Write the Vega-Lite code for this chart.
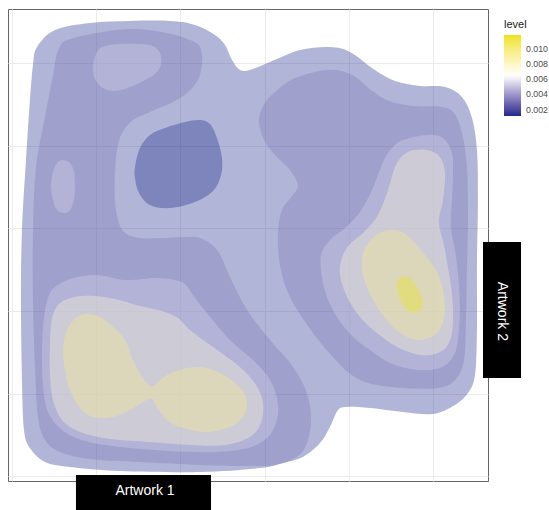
{
"$schema": "https://vega.github.io/schema/vega-lite/v6.json",
"width": 480,
"height": 472,
"padding": {"left": 8, "top": 9, "right": 0, "bottom": 0},
"background": "white",
"config": {
  "view": {"stroke": "#666666", "strokeWidth": 1},
  "axis": {"grid": true, "ticks": false, "labels": false, "domain": false, "title": null, "gridColor": "#ebebeb", "gridWidth": 1}
},
"datasets": {
"contours": [
{"poly":"a1","level":0.00118,"x":0.294,"y":5.194},{"poly":"a1","level":0.00118,"x":0.508,"y":5.400},{"poly":"a1","level":0.00118,"x":0.924,"y":5.485},{"poly":"a1","level":0.00118,"x":1.399,"y":5.509},{"poly":"a1","level":0.00118,"x":1.875,"y":5.509},{"poly":"a1","level":0.00118,"x":2.172,"y":5.461},{"poly":"a1","level":0.00118,"x":2.410,"y":5.340},{"poly":"a1","level":0.00118,"x":2.529,"y":5.219},{"poly":"a1","level":0.00118,"x":2.612,"y":5.037},{"poly":"a1","level":0.00118,"x":2.707,"y":4.916},{"poly":"a1","level":0.00118,"x":2.826,"y":4.916},{"poly":"a1","level":0.00118,"x":3.064,"y":5.013},{"poly":"a1","level":0.00118,"x":3.421,"y":5.158},{"poly":"a1","level":0.00118,"x":3.777,"y":5.194},{"poly":"a1","level":0.00118,"x":4.015,"y":5.134},{"poly":"a1","level":0.00118,"x":4.312,"y":4.916},{"poly":"a1","level":0.00118,"x":4.550,"y":4.783},{"poly":"a1","level":0.00118,"x":4.848,"y":4.723},{"poly":"a1","level":0.00118,"x":5.145,"y":4.711},{"poly":"a1","level":0.00118,"x":5.347,"y":4.590},{"poly":"a1","level":0.00118,"x":5.466,"y":4.335},{"poly":"a1","level":0.00118,"x":5.525,"y":3.948},{"poly":"a1","level":0.00118,"x":5.537,"y":3.343},{"poly":"a1","level":0.00118,"x":5.525,"y":2.617},{"poly":"a1","level":0.00118,"x":5.525,"y":1.770},{"poly":"a1","level":0.00118,"x":5.502,"y":1.226},{"poly":"a1","level":0.00118,"x":5.418,"y":1.008},{"poly":"a1","level":0.00118,"x":5.264,"y":0.863},{"poly":"a1","level":0.00118,"x":5.002,"y":0.754},{"poly":"a1","level":0.00118,"x":4.645,"y":0.778},{"poly":"a1","level":0.00118,"x":4.253,"y":0.826},{"poly":"a1","level":0.00118,"x":3.980,"y":0.839},{"poly":"a1","level":0.00118,"x":3.873,"y":0.802},{"poly":"a1","level":0.00118,"x":3.777,"y":0.597},{"poly":"a1","level":0.00118,"x":3.659,"y":0.403},{"poly":"a1","level":0.00118,"x":3.456,"y":0.234},{"poly":"a1","level":0.00118,"x":3.219,"y":0.161},{"poly":"a1","level":0.00118,"x":2.945,"y":0.100},{"poly":"a1","level":0.00118,"x":2.232,"y":0.052},{"poly":"a1","level":0.00118,"x":1.281,"y":0.064},{"poly":"a1","level":0.00118,"x":0.686,"y":0.113},{"poly":"a1","level":0.00118,"x":0.389,"y":0.173},{"poly":"a1","level":0.00118,"x":0.210,"y":0.342},{"poly":"a1","level":0.00118,"x":0.139,"y":0.560},{"poly":"a1","level":0.00118,"x":0.115,"y":1.165},{"poly":"a1","level":0.00118,"x":0.103,"y":2.133},{"poly":"a1","level":0.00118,"x":0.115,"y":2.980},{"poly":"a1","level":0.00118,"x":0.163,"y":3.827},{"poly":"a1","level":0.00118,"x":0.210,"y":4.553},{"poly":"a1","level":0.00118,"x":0.246,"y":4.977},
{"poly":"a2","level":0.00118,"x":1.459,"y":3.743},{"poly":"a2","level":0.00118,"x":1.518,"y":3.972},{"poly":"a2","level":0.00118,"x":1.637,"y":4.130},{"poly":"a2","level":0.00118,"x":1.816,"y":4.214},{"poly":"a2","level":0.00118,"x":2.053,"y":4.287},{"poly":"a2","level":0.00118,"x":2.232,"y":4.311},{"poly":"a2","level":0.00118,"x":2.351,"y":4.263},{"poly":"a2","level":0.00118,"x":2.434,"y":4.093},{"poly":"a2","level":0.00118,"x":2.493,"y":3.851},{"poly":"a2","level":0.00118,"x":2.482,"y":3.646},{"poly":"a2","level":0.00118,"x":2.386,"y":3.452},{"poly":"a2","level":0.00118,"x":2.172,"y":3.319},{"poly":"a2","level":0.00118,"x":1.875,"y":3.246},{"poly":"a2","level":0.00118,"x":1.637,"y":3.283},{"poly":"a2","level":0.00118,"x":1.506,"y":3.428},{"poly":"a2","level":0.00118,"x":1.459,"y":3.609},
{"poly":"b1","level":0.0033,"x":0.567,"y":5.194},{"poly":"b1","level":0.0033,"x":0.650,"y":5.279},{"poly":"b1","level":0.0033,"x":1.007,"y":5.364},{"poly":"b1","level":0.0033,"x":1.435,"y":5.412},{"poly":"b1","level":0.0033,"x":1.839,"y":5.364},{"poly":"b1","level":0.0033,"x":2.113,"y":5.279},{"poly":"b1","level":0.0033,"x":2.232,"y":5.194},{"poly":"b1","level":0.0033,"x":2.256,"y":5.001},{"poly":"b1","level":0.0033,"x":2.208,"y":4.795},{"poly":"b1","level":0.0033,"x":2.077,"y":4.638},{"poly":"b1","level":0.0033,"x":1.911,"y":4.529},{"poly":"b1","level":0.0033,"x":1.637,"y":4.408},{"poly":"b1","level":0.0033,"x":1.435,"y":4.311},{"poly":"b1","level":0.0033,"x":1.304,"y":4.154},{"poly":"b1","level":0.0033,"x":1.245,"y":3.948},{"poly":"b1","level":0.0033,"x":1.221,"y":3.670},{"poly":"b1","level":0.0033,"x":1.221,"y":3.343},{"poly":"b1","level":0.0033,"x":1.257,"y":3.101},{"poly":"b1","level":0.0033,"x":1.340,"y":2.944},{"poly":"b1","level":0.0033,"x":1.518,"y":2.883},{"poly":"b1","level":0.0033,"x":1.816,"y":2.883},{"poly":"b1","level":0.0033,"x":2.053,"y":2.896},{"poly":"b1","level":0.0033,"x":2.232,"y":2.883},{"poly":"b1","level":0.0033,"x":2.434,"y":2.738},{"poly":"b1","level":0.0033,"x":2.588,"y":2.412},{"poly":"b1","level":0.0033,"x":2.791,"y":2.012},{"poly":"b1","level":0.0033,"x":3.064,"y":1.649},{"poly":"b1","level":0.0033,"x":3.302,"y":1.371},{"poly":"b1","level":0.0033,"x":3.480,"y":1.068},{"poly":"b1","level":0.0033,"x":3.551,"y":0.742},{"poly":"b1","level":0.0033,"x":3.516,"y":0.439},{"poly":"b1","level":0.0033,"x":3.397,"y":0.246},{"poly":"b1","level":0.0033,"x":3.124,"y":0.137},{"poly":"b1","level":0.0033,"x":2.707,"y":0.125},{"poly":"b1","level":0.0033,"x":2.232,"y":0.137},{"poly":"b1","level":0.0033,"x":1.518,"y":0.173},{"poly":"b1","level":0.0033,"x":0.924,"y":0.209},{"poly":"b1","level":0.0033,"x":0.567,"y":0.294},{"poly":"b1","level":0.0033,"x":0.389,"y":0.439},{"poly":"b1","level":0.0033,"x":0.306,"y":0.718},{"poly":"b1","level":0.0033,"x":0.270,"y":1.323},{"poly":"b1","level":0.0033,"x":0.246,"y":2.133},{"poly":"b1","level":0.0033,"x":0.246,"y":2.944},{"poly":"b1","level":0.0033,"x":0.282,"y":3.743},{"poly":"b1","level":0.0033,"x":0.389,"y":4.348},{"poly":"b1","level":0.0033,"x":0.484,"y":4.856},{"poly":"b1","level":0.0033,"x":0.520,"y":5.074},
{"poly":"b2","level":0.0033,"x":2.933,"y":4.311},{"poly":"b2","level":0.0033,"x":3.004,"y":4.517},{"poly":"b2","level":0.0033,"x":3.124,"y":4.650},{"poly":"b2","level":0.0033,"x":3.314,"y":4.795},{"poly":"b2","level":0.0033,"x":3.599,"y":4.892},{"poly":"b2","level":0.0033,"x":3.849,"y":4.916},{"poly":"b2","level":0.0033,"x":4.063,"y":4.844},{"poly":"b2","level":0.0033,"x":4.265,"y":4.674},{"poly":"b2","level":0.0033,"x":4.479,"y":4.541},{"poly":"b2","level":0.0033,"x":4.764,"y":4.481},{"poly":"b2","level":0.0033,"x":5.097,"y":4.469},{"poly":"b2","level":0.0033,"x":5.252,"y":4.396},{"poly":"b2","level":0.0033,"x":5.347,"y":4.154},{"poly":"b2","level":0.0033,"x":5.406,"y":3.743},{"poly":"b2","level":0.0033,"x":5.418,"y":3.138},{"poly":"b2","level":0.0033,"x":5.406,"y":2.533},{"poly":"b2","level":0.0033,"x":5.395,"y":1.928},{"poly":"b2","level":0.0033,"x":5.371,"y":1.407},{"poly":"b2","level":0.0033,"x":5.264,"y":1.165},{"poly":"b2","level":0.0033,"x":5.062,"y":1.068},{"poly":"b2","level":0.0033,"x":4.645,"y":1.068},{"poly":"b2","level":0.0033,"x":4.229,"y":1.129},{"poly":"b2","level":0.0033,"x":3.991,"y":1.262},{"poly":"b2","level":0.0033,"x":3.813,"y":1.444},{"poly":"b2","level":0.0033,"x":3.575,"y":1.734},{"poly":"b2","level":0.0033,"x":3.302,"y":2.170},{"poly":"b2","level":0.0033,"x":3.183,"y":2.557},{"poly":"b2","level":0.0033,"x":3.159,"y":2.944},{"poly":"b2","level":0.0033,"x":3.207,"y":3.222},{"poly":"b2","level":0.0033,"x":3.338,"y":3.404},{"poly":"b2","level":0.0033,"x":3.397,"y":3.525},{"poly":"b2","level":0.0033,"x":3.302,"y":3.706},{"poly":"b2","level":0.0033,"x":3.135,"y":3.876},{"poly":"b2","level":0.0033,"x":2.993,"y":4.069},
{"poly":"c1","level":0.00542,"x":0.960,"y":4.953},{"poly":"c1","level":0.00542,"x":1.007,"y":5.134},{"poly":"c1","level":0.00542,"x":1.102,"y":5.207},{"poly":"c1","level":0.00542,"x":1.281,"y":5.231},{"poly":"c1","level":0.00542,"x":1.518,"y":5.231},{"poly":"c1","level":0.00542,"x":1.673,"y":5.207},{"poly":"c1","level":0.00542,"x":1.756,"y":5.122},{"poly":"c1","level":0.00542,"x":1.768,"y":4.989},{"poly":"c1","level":0.00542,"x":1.709,"y":4.880},{"poly":"c1","level":0.00542,"x":1.578,"y":4.795},{"poly":"c1","level":0.00542,"x":1.399,"y":4.711},{"poly":"c1","level":0.00542,"x":1.221,"y":4.662},{"poly":"c1","level":0.00542,"x":1.078,"y":4.698},{"poly":"c1","level":0.00542,"x":0.983,"y":4.807},
{"poly":"c2","level":0.00542,"x":0.603,"y":3.827},{"poly":"c2","level":0.00542,"x":0.686,"y":3.791},{"poly":"c2","level":0.00542,"x":0.734,"y":3.682},{"poly":"c2","level":0.00542,"x":0.745,"y":3.513},{"poly":"c2","level":0.00542,"x":0.734,"y":3.343},{"poly":"c2","level":0.00542,"x":0.686,"y":3.222},{"poly":"c2","level":0.00542,"x":0.615,"y":3.186},{"poly":"c2","level":0.00542,"x":0.531,"y":3.222},{"poly":"c2","level":0.00542,"x":0.484,"y":3.343},{"poly":"c2","level":0.00542,"x":0.460,"y":3.513},{"poly":"c2","level":0.00542,"x":0.484,"y":3.682},{"poly":"c2","level":0.00542,"x":0.531,"y":3.791},
{"poly":"c3","level":0.00542,"x":0.508,"y":2.291},{"poly":"c3","level":0.00542,"x":0.722,"y":2.399},{"poly":"c3","level":0.00542,"x":1.007,"y":2.436},{"poly":"c3","level":0.00542,"x":1.340,"y":2.375},{"poly":"c3","level":0.00542,"x":1.697,"y":2.399},{"poly":"c3","level":0.00542,"x":1.934,"y":2.375},{"poly":"c3","level":0.00542,"x":2.065,"y":2.315},{"poly":"c3","level":0.00542,"x":2.172,"y":2.157},{"poly":"c3","level":0.00542,"x":2.315,"y":1.976},{"poly":"c3","level":0.00542,"x":2.588,"y":1.649},{"poly":"c3","level":0.00542,"x":2.862,"y":1.407},{"poly":"c3","level":0.00542,"x":3.064,"y":1.165},{"poly":"c3","level":0.00542,"x":3.159,"y":0.887},{"poly":"c3","level":0.00542,"x":3.135,"y":0.645},{"poly":"c3","level":0.00542,"x":3.028,"y":0.463},{"poly":"c3","level":0.00542,"x":2.802,"y":0.342},{"poly":"c3","level":0.00542,"x":2.410,"y":0.294},{"poly":"c3","level":0.00542,"x":1.875,"y":0.306},{"poly":"c3","level":0.00542,"x":1.281,"y":0.355},{"poly":"c3","level":0.00542,"x":0.864,"y":0.427},{"poly":"c3","level":0.00542,"x":0.591,"y":0.560},{"poly":"c3","level":0.00542,"x":0.424,"y":0.778},{"poly":"c3","level":0.00542,"x":0.365,"y":1.105},{"poly":"c3","level":0.00542,"x":0.353,"y":1.528},{"poly":"c3","level":0.00542,"x":0.377,"y":1.915},{"poly":"c3","level":0.00542,"x":0.424,"y":2.157},
{"poly":"c4","level":0.00542,"x":4.645,"y":4.069},{"poly":"c4","level":0.00542,"x":4.931,"y":4.130},{"poly":"c4","level":0.00542,"x":5.121,"y":4.093},{"poly":"c4","level":0.00542,"x":5.228,"y":3.912},{"poly":"c4","level":0.00542,"x":5.240,"y":3.670},{"poly":"c4","level":0.00542,"x":5.228,"y":3.343},{"poly":"c4","level":0.00542,"x":5.216,"y":3.017},{"poly":"c4","level":0.00542,"x":5.264,"y":2.738},{"poly":"c4","level":0.00542,"x":5.299,"y":2.460},{"poly":"c4","level":0.00542,"x":5.323,"y":2.049},{"poly":"c4","level":0.00542,"x":5.299,"y":1.649},{"poly":"c4","level":0.00542,"x":5.240,"y":1.444},{"poly":"c4","level":0.00542,"x":5.085,"y":1.310},{"poly":"c4","level":0.00542,"x":4.812,"y":1.286},{"poly":"c4","level":0.00542,"x":4.491,"y":1.371},{"poly":"c4","level":0.00542,"x":4.253,"y":1.528},{"poly":"c4","level":0.00542,"x":4.051,"y":1.686},{"poly":"c4","level":0.00542,"x":3.861,"y":1.928},{"poly":"c4","level":0.00542,"x":3.742,"y":2.170},{"poly":"c4","level":0.00542,"x":3.682,"y":2.412},{"poly":"c4","level":0.00542,"x":3.670,"y":2.678},{"poly":"c4","level":0.00542,"x":3.777,"y":2.859},{"poly":"c4","level":0.00542,"x":3.956,"y":3.004},{"poly":"c4","level":0.00542,"x":4.134,"y":3.198},{"poly":"c4","level":0.00542,"x":4.277,"y":3.464},{"poly":"c4","level":0.00542,"x":4.408,"y":3.803},{"poly":"c4","level":0.00542,"x":4.515,"y":3.972},
{"poly":"d1","level":0.00754,"x":0.472,"y":1.915},{"poly":"d1","level":0.00754,"x":0.567,"y":2.097},{"poly":"d1","level":0.00754,"x":0.745,"y":2.170},{"poly":"d1","level":0.00754,"x":0.983,"y":2.182},{"poly":"d1","level":0.00754,"x":1.221,"y":2.145},{"poly":"d1","level":0.00754,"x":1.518,"y":2.061},{"poly":"d1","level":0.00754,"x":1.780,"y":2.000},{"poly":"d1","level":0.00754,"x":1.970,"y":1.915},{"poly":"d1","level":0.00754,"x":2.113,"y":1.770},{"poly":"d1","level":0.00754,"x":2.386,"y":1.565},{"poly":"d1","level":0.00754,"x":2.707,"y":1.323},{"poly":"d1","level":0.00754,"x":2.898,"y":1.105},{"poly":"d1","level":0.00754,"x":2.981,"y":0.887},{"poly":"d1","level":0.00754,"x":2.957,"y":0.645},{"poly":"d1","level":0.00754,"x":2.826,"y":0.476},{"poly":"d1","level":0.00754,"x":2.529,"y":0.379},{"poly":"d1","level":0.00754,"x":2.113,"y":0.379},{"poly":"d1","level":0.00754,"x":1.637,"y":0.415},{"poly":"d1","level":0.00754,"x":1.162,"y":0.451},{"poly":"d1","level":0.00754,"x":0.805,"y":0.536},{"poly":"d1","level":0.00754,"x":0.591,"y":0.681},{"poly":"d1","level":0.00754,"x":0.484,"y":0.923},{"poly":"d1","level":0.00754,"x":0.448,"y":1.226},{"poly":"d1","level":0.00754,"x":0.448,"y":1.589},
{"poly":"d2","level":0.00754,"x":4.705,"y":3.924},{"poly":"d2","level":0.00754,"x":4.931,"y":3.948},{"poly":"d2","level":0.00754,"x":5.085,"y":3.864},{"poly":"d2","level":0.00754,"x":5.145,"y":3.670},{"poly":"d2","level":0.00754,"x":5.121,"y":3.343},{"poly":"d2","level":0.00754,"x":5.073,"y":3.077},{"poly":"d2","level":0.00754,"x":5.133,"y":2.799},{"poly":"d2","level":0.00754,"x":5.181,"y":2.520},{"poly":"d2","level":0.00754,"x":5.228,"y":2.218},{"poly":"d2","level":0.00754,"x":5.240,"y":1.855},{"poly":"d2","level":0.00754,"x":5.192,"y":1.613},{"poly":"d2","level":0.00754,"x":5.062,"y":1.492},{"poly":"d2","level":0.00754,"x":4.848,"y":1.468},{"poly":"d2","level":0.00754,"x":4.574,"y":1.565},{"poly":"d2","level":0.00754,"x":4.336,"y":1.734},{"poly":"d2","level":0.00754,"x":4.134,"y":1.928},{"poly":"d2","level":0.00754,"x":3.980,"y":2.170},{"poly":"d2","level":0.00754,"x":3.896,"y":2.436},{"poly":"d2","level":0.00754,"x":3.920,"y":2.641},{"poly":"d2","level":0.00754,"x":4.015,"y":2.811},{"poly":"d2","level":0.00754,"x":4.182,"y":2.956},{"poly":"d2","level":0.00754,"x":4.348,"y":3.162},{"poly":"d2","level":0.00754,"x":4.467,"y":3.464},{"poly":"d2","level":0.00754,"x":4.562,"y":3.767},
{"poly":"e1","level":0.00966,"x":0.900,"y":1.964},{"poly":"e1","level":0.00966,"x":1.043,"y":1.928},{"poly":"e1","level":0.00966,"x":1.197,"y":1.807},{"poly":"e1","level":0.00966,"x":1.340,"y":1.649},{"poly":"e1","level":0.00966,"x":1.435,"y":1.407},{"poly":"e1","level":0.00966,"x":1.518,"y":1.250},{"poly":"e1","level":0.00966,"x":1.602,"y":1.129},{"poly":"e1","level":0.00966,"x":1.673,"y":1.093},{"poly":"e1","level":0.00966,"x":1.839,"y":1.226},{"poly":"e1","level":0.00966,"x":2.077,"y":1.310},{"poly":"e1","level":0.00966,"x":2.315,"y":1.310},{"poly":"e1","level":0.00966,"x":2.553,"y":1.202},{"poly":"e1","level":0.00966,"x":2.731,"y":1.044},{"poly":"e1","level":0.00966,"x":2.791,"y":0.887},{"poly":"e1","level":0.00966,"x":2.743,"y":0.718},{"poly":"e1","level":0.00966,"x":2.588,"y":0.597},{"poly":"e1","level":0.00966,"x":2.315,"y":0.536},{"poly":"e1","level":0.00966,"x":2.030,"y":0.584},{"poly":"e1","level":0.00966,"x":1.839,"y":0.681},{"poly":"e1","level":0.00966,"x":1.720,"y":0.839},{"poly":"e1","level":0.00966,"x":1.661,"y":0.935},{"poly":"e1","level":0.00966,"x":1.554,"y":0.899},{"poly":"e1","level":0.00966,"x":1.399,"y":0.802},{"poly":"e1","level":0.00966,"x":1.197,"y":0.718},{"poly":"e1","level":0.00966,"x":0.960,"y":0.718},{"poly":"e1","level":0.00966,"x":0.805,"y":0.826},{"poly":"e1","level":0.00966,"x":0.686,"y":1.044},{"poly":"e1","level":0.00966,"x":0.627,"y":1.286},{"poly":"e1","level":0.00966,"x":0.603,"y":1.528},{"poly":"e1","level":0.00966,"x":0.650,"y":1.770},{"poly":"e1","level":0.00966,"x":0.769,"y":1.928},
{"poly":"e2","level":0.00966,"x":4.312,"y":2.908},{"poly":"e2","level":0.00966,"x":4.491,"y":2.980},{"poly":"e2","level":0.00966,"x":4.634,"y":2.956},{"poly":"e2","level":0.00966,"x":4.752,"y":2.859},{"poly":"e2","level":0.00966,"x":4.907,"y":2.678},{"poly":"e2","level":0.00966,"x":5.050,"y":2.472},{"poly":"e2","level":0.00966,"x":5.133,"y":2.194},{"poly":"e2","level":0.00966,"x":5.133,"y":1.915},{"poly":"e2","level":0.00966,"x":5.038,"y":1.722},{"poly":"e2","level":0.00966,"x":4.824,"y":1.649},{"poly":"e2","level":0.00966,"x":4.610,"y":1.734},{"poly":"e2","level":0.00966,"x":4.431,"y":1.915},{"poly":"e2","level":0.00966,"x":4.277,"y":2.157},{"poly":"e2","level":0.00966,"x":4.170,"y":2.436},{"poly":"e2","level":0.00966,"x":4.170,"y":2.702},
{"poly":"f1","level":0.01178,"x":4.574,"y":2.339},{"poly":"f1","level":0.01178,"x":4.622,"y":2.412},{"poly":"f1","level":0.01178,"x":4.705,"y":2.412},{"poly":"f1","level":0.01178,"x":4.788,"y":2.327},{"poly":"f1","level":0.01178,"x":4.859,"y":2.194},{"poly":"f1","level":0.01178,"x":4.883,"y":2.073},{"poly":"f1","level":0.01178,"x":4.824,"y":1.988},{"poly":"f1","level":0.01178,"x":4.729,"y":1.988},{"poly":"f1","level":0.01178,"x":4.646,"y":2.073},{"poly":"f1","level":0.01178,"x":4.586,"y":2.206}
]
},
"layer": [
{
  "data": {"name": "contours"},
  "mark": {"type": "line", "filled": true, "fillOpacity": 0.35, "interpolate": "cardinal-closed"},
  "encoding": {
    "x": {"field": "x", "type": "quantitative", "scale": {"domain": [-0.0511, 5.6564], "nice": false, "zero": false}, "axis": {"values": [0, 1, 2, 3, 4, 5]}},
    "y": {"field": "y", "type": "quantitative", "scale": {"domain": [-0.0569, 5.654], "nice": false, "zero": false}, "axis": {"values": [0, 1, 2, 3, 4, 5]}},
    "detail": {"field": "poly", "type": "nominal"},
    "order": {"value": null},
    "color": {
      "field": "level", "type": "quantitative",
      "scale": {"domain": [0.00118, 0.0064, 0.01178], "range": ["#1f2a8c", "#ffffff", "#ede414"], "interpolate": "lab"},
      "legend": {
        "title": "level", "orient": "none", "legendX": 496, "legendY": 10, "direction": "vertical", "padding": 0,
        "gradientLength": 81, "gradientThickness": 17, "gradientStrokeWidth": 0,
        "values": [0.002, 0.004, 0.006, 0.008, 0.01], "format": ".3f", "labelOverlap": false,
        "labelFont": "Liberation Sans", "labelFontSize": 8.8, "labelColor": "#4d4d4d", "labelOffset": 5,
        "titleFont": "Liberation Sans", "titleFontSize": 11, "titleFontWeight": "normal", "titleColor": "#1a1a1a", "titlePadding": 5
      }
    }
  }
},
{
  "data": {"values": [{}]},
  "mark": {"type": "rect", "color": "black"},
  "encoding": {
    "x": {"datum": 0.757, "type": "quantitative"}, "x2": {"datum": 2.363},
    "y": {"datum": 0.016, "type": "quantitative"}, "y2": {"datum": -0.408}
  }
},
{
  "data": {"values": [{}]},
  "mark": {"type": "rect", "color": "black"},
  "encoding": {
    "x": {"datum": 5.597, "type": "quantitative"}, "x2": {"datum": 6.049},
    "y": {"datum": 2.835, "type": "quantitative"}, "y2": {"datum": 1.189}
  }
},
{
  "data": {"values": [{}]},
  "mark": {"type": "text", "color": "white", "font": "Liberation Sans", "fontSize": 14},
  "encoding": {
    "x": {"datum": 1.578, "type": "quantitative"},
    "y": {"datum": -0.178, "type": "quantitative"},
    "text": {"value": "Artwork 1"}
  }
},
{
  "data": {"values": [{}]},
  "mark": {"type": "text", "color": "white", "font": "Liberation Sans", "fontSize": 14, "angle": 90},
  "encoding": {
    "x": {"datum": 5.823, "type": "quantitative"},
    "y": {"datum": 1.995, "type": "quantitative"},
    "text": {"value": "Artwork 2"}
  }
}
]
}
